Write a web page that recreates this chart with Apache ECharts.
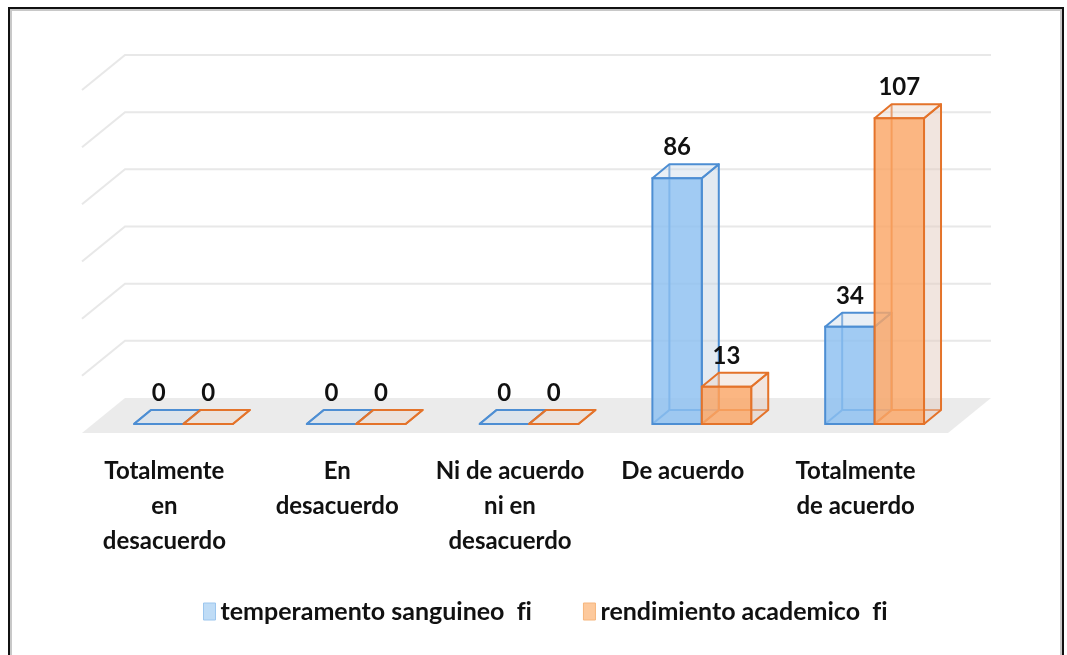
<!DOCTYPE html>
<html>
<head>
<meta charset="utf-8">
<script src="https://cdn.jsdelivr.net/npm/echarts@6/dist/echarts.min.js"></script>
<style>html,body{margin:0;padding:0;background:#fff;}#c{width:1067px;height:655px;}</style>
</head>
<body>
<div id="c"></div>
<script>
const categories = ['Totalmente\nen\ndesacuerdo', 'En\ndesacuerdo', 'Ni de acuerdo\nni en\ndesacuerdo', 'De acuerdo', 'Totalmente\nde acuerdo'];
const seriesNames = ['temperamento sanguineo  fi', 'rendimiento academico  fi'];
const temperamento = [0, 0, 0, 86, 34];
const rendimiento = [0, 0, 0, 13, 107];
const gridTicks = [20, 40, 60, 80, 100, 120];
const yMax = 120;

const FONT = 'Lato';
const DEPTH = [17, -14];      // bar depth offset (px)
const FLOOR_FRONT = [-11, 9]; // floor front edge relative to bar front plane
const BACK = [32, -26];       // back wall relative to bar front plane
const BAR_FRAC = 0.286;

const styles = [
  {front: 'rgba(140,191,240,0.82)', side: 'rgba(200,214,228,0.5)', top: 'rgba(205,220,234,0.45)', edge: '#4d8ed3'},
  {front: 'rgba(250,166,102,0.82)', side: 'rgba(228,204,192,0.5)', top: 'rgba(236,214,202,0.45)', edge: '#e4732a'}
];

function barRenderer(sIdx) {
  const st = styles[sIdx];
  return function (params, api) {
    const idx = api.value(0), v = api.value(1);
    const base = api.coord([idx, 0]);
    const top = api.coord([idx, v]);
    const band = api.size([1, 0])[0];
    const w = band * BAR_FRAC;
    const x0 = sIdx === 0 ? base[0] - w : base[0];
    const x1 = x0 + w;
    const yb = base[1], yt = top[1];
    const dx = DEPTH[0], dy = DEPTH[1];
    const lw = 2;
    const ls = {stroke: st.edge, lineWidth: lw, fill: null};
    const children = [
      {type: 'line', shape: {x1: x0 + dx, y1: yb + dy, x2: x1 + dx, y2: yb + dy}, style: ls},
      {type: 'line', shape: {x1: x0 + dx, y1: yb + dy, x2: x0 + dx, y2: yt + dy}, style: ls},
      {type: 'line', shape: {x1: x0, y1: yb, x2: x0 + dx, y2: yb + dy}, style: ls},
      {type: 'polygon', shape: {points: [[x1, yb], [x1 + dx, yb + dy], [x1 + dx, yt + dy], [x1, yt]]},
        style: {fill: st.side, stroke: st.edge, lineWidth: lw, lineJoin: 'round'}},
      {type: 'polygon', shape: {points: [[x0, yt], [x1, yt], [x1 + dx, yt + dy], [x0 + dx, yt + dy]]},
        style: {fill: st.top, stroke: st.edge, lineWidth: lw, lineJoin: 'round'}},
      {type: 'rect', shape: {x: x0, y: yt, width: w, height: Math.max(yb - yt, 0)},
        style: {fill: st.front, stroke: st.edge, lineWidth: lw}},
      {type: 'text', style: {text: String(v), x: (x0 + x1) / 2, y: yt - 31, align: 'center', verticalAlign: 'middle',
        font: 'bold 24px ' + FONT, fill: '#111'}}
    ];
    return {type: 'group', children: children};
  };
}

function wallRenderer(params, api) {
  const v = api.value(1);
  const n = categories.length;
  const band = api.size([1, 0])[0];
  const p0 = api.coord([0, v]);
  const pN = api.coord([n - 1, v]);
  const xL = p0[0] - band / 2 - 4;
  const xR = pN[0] + band / 2 - 2;
  const y = p0[1];
  if (v === 0) {
    return {type: 'polygon', shape: {points: [
      [xL + FLOOR_FRONT[0], y + FLOOR_FRONT[1]], [xR + FLOOR_FRONT[0], y + FLOOR_FRONT[1]],
      [xR + BACK[0], y + BACK[1]], [xL + BACK[0], y + BACK[1]]]},
      style: {fill: '#ebebeb', stroke: null}};
  }
  return {type: 'polyline', shape: {points: [
    [xL + FLOOR_FRONT[0], y + FLOOR_FRONT[1]], [xL + BACK[0], y + BACK[1]], [xR + BACK[0], y + BACK[1]]]},
    style: {stroke: '#e8e8e8', lineWidth: 2, fill: null}};
}

// render "fi" as two separate glyphs (no ligature), as in the reference
function noLigature(name) {
  return name.replace(/fi$/, 'f{t|i}');
}

const legendFont = {fontFamily: FONT, fontWeight: 'bold', fontSize: 25, color: '#111'};

const chart = echarts.init(document.getElementById('c'), null, {renderer: 'canvas'});
const option = {
  animation: false,
  backgroundColor: '#fff',
  grid: [
    {left: 97, right: 106, top: 81, bottom: 231},
    {left: 78, right: 125, top: 81, bottom: 231}
  ],
  xAxis: [
    {type: 'category', gridIndex: 0, data: categories, show: false},
    {type: 'category', gridIndex: 1, data: categories, axisLine: {show: false}, axisTick: {show: false},
      axisLabel: {interval: 0, margin: 30, lineHeight: 35, color: '#111', fontFamily: FONT, fontWeight: 'bold', fontSize: 24}}
  ],
  yAxis: [
    {type: 'value', gridIndex: 0, min: 0, max: yMax, show: false, splitLine: {show: false}},
    {type: 'value', gridIndex: 1, min: 0, max: yMax, show: false, splitLine: {show: false}}
  ],
  legend: {
    left: 203, top: 599, padding: 0, itemWidth: 12, itemHeight: 17, itemGap: 51, icon: 'rect',
    formatter: noLigature,
    textStyle: Object.assign({}, legendFont, {rich: {t: legendFont}}),
    data: [
      {name: seriesNames[0], itemStyle: {color: '#bfdcf6', borderColor: '#9cc6ee', borderWidth: 1}},
      {name: seriesNames[1], itemStyle: {color: '#fdc99c', borderColor: '#f6b57c', borderWidth: 1}}
    ]
  },
  graphic: [
    {type: 'rect', shape: {x: 11, y: 10, width: 1050, height: 700}, style: {fill: null, stroke: '#c8c8c8', lineWidth: 2}, z: 100},
    {type: 'rect', shape: {x: 9, y: 8, width: 1054, height: 700}, style: {fill: null, stroke: '#111', lineWidth: 2}, z: 100}
  ],
  series: [
    {type: 'custom', name: 'walls', xAxisIndex: 0, yAxisIndex: 0, silent: true, z: 1,
      renderItem: wallRenderer, data: [[0, 0]].concat(gridTicks.map(v => [0, v]))},
    {type: 'custom', name: seriesNames[0], xAxisIndex: 0, yAxisIndex: 0, z: 2,
      itemStyle: {color: '#bfdcf6'}, renderItem: barRenderer(0),
      data: temperamento.map((v, i) => [i, v])},
    {type: 'custom', name: seriesNames[1], xAxisIndex: 0, yAxisIndex: 0, z: 3,
      itemStyle: {color: '#fdc99c'}, renderItem: barRenderer(1),
      data: rendimiento.map((v, i) => [i, v])}
  ]
};
chart.setOption(option);
</script>
</body>
</html>
